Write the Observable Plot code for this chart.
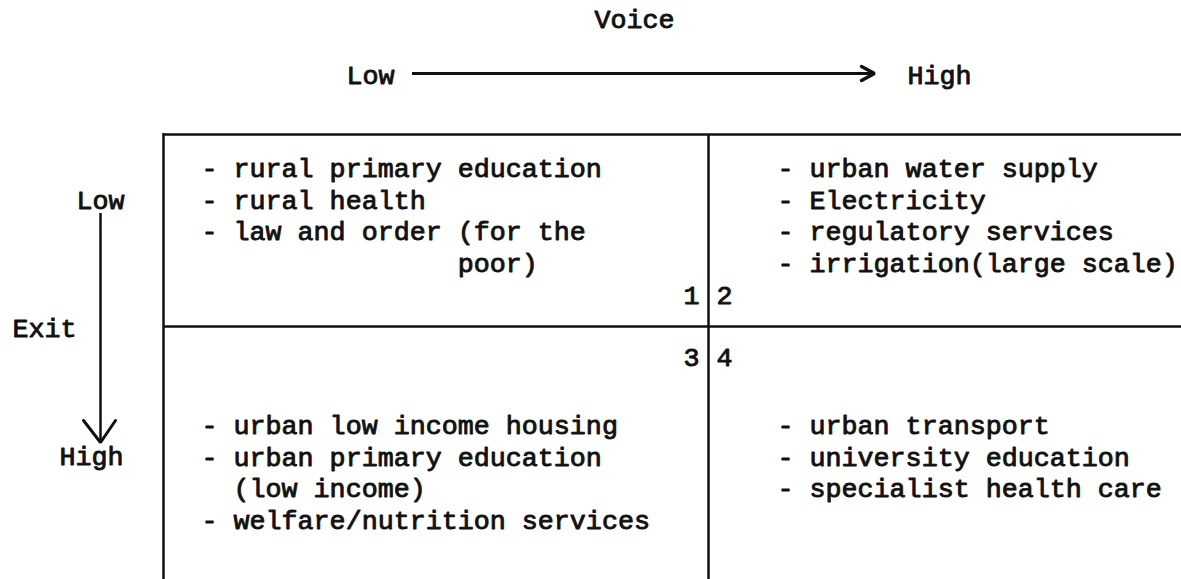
<!DOCTYPE html>
<html>
<head>
<meta charset="utf-8">
<script src="https://cdn.jsdelivr.net/npm/d3@7"></script>
<script src="https://cdn.jsdelivr.net/npm/@observablehq/plot@0.6"></script>
<style>
  html, body { margin: 0; padding: 0; background: #ffffff; }
  #chart svg text { white-space: pre; }
</style>
</head>
<body>
<div id="chart"></div>
<script>
// ---- Data (text content of the diagram) ----
const axisTitles = ["Voice", "Exit"];
const voiceLevels = ["Low", "High"];
const exitLevels = ["Low", "High"];
const quadrantNumbers = ["1", "2", "3", "4"];
const q1Items = ["- rural primary education", "- rural health", "- law and order (for the", "                poor)"];
const q2Items = ["- urban water supply", "- Electricity", "- regulatory services", "- irrigation(large scale)"];
const q3Items = ["- urban low income housing", "- urban primary education", "  (low income)", "- welfare/nutrition services"];
const q4Items = ["- urban transport", "- university education", "- specialist health care"];

// ---- Layout (page geometry: typewriter grid) ----
const W = 1181, H = 579;
const boxLeft = 163, boxDiv = 708, boxTop = 134, boxMid = 326;
const lineStep = 31.5;
const colText = [201, 777];
const rowText = [168, 425];
const font = "Liberation Mono";
const fs = 26.7;

const quadrants = [
  {items: q1Items, col: 0, row: 0},
  {items: q2Items, col: 1, row: 0},
  {items: q3Items, col: 0, row: 1},
  {items: q4Items, col: 1, row: 1}
];
const itemRows = quadrants.flatMap(q => q.items.map((t, i) => ({
  text: t, x: colText[q.col], y: rowText[q.row] + i * lineStep
})));

const numbers = [
  {text: quadrantNumbers[0], x: boxDiv - 9, y: 295, anchor: "end"},
  {text: quadrantNumbers[1], x: boxDiv + 8, y: 295, anchor: "start"},
  {text: quadrantNumbers[2], x: boxDiv - 9, y: 357, anchor: "end"},
  {text: quadrantNumbers[3], x: boxDiv + 8, y: 357, anchor: "start"}
];

// arrows
const hArrow = {x1: 412, x2: 874, y: 73};
const vArrow = {x: 100, y1: 213, y2: 442};
const hHead = [
  {x: hArrow.x2 - 13, y: hArrow.y - 7},
  {x: hArrow.x2, y: hArrow.y},
  {x: hArrow.x2 - 13, y: hArrow.y + 7}
];
const vHead = [
  {x: vArrow.x - 17, y: vArrow.y2 - 22},
  {x: vArrow.x, y: vArrow.y2},
  {x: vArrow.x + 15, y: vArrow.y2 - 22}
];

const labels = [
  {text: axisTitles[0], x: 634, y: 19, anchor: "middle"},
  {text: voiceLevels[0], x: 346, y: 75, anchor: "start"},
  {text: voiceLevels[1], x: 907, y: 75, anchor: "start"},
  {text: exitLevels[0], x: 100, y: 200, anchor: "middle"},
  {text: exitLevels[1], x: 91, y: 456, anchor: "middle"},
  {text: axisTitles[1], x: 12, y: 328, anchor: "start"}
];

const ink = "#111";
const textOpts = (anchor) => ({
  x: "x", y: "y", text: "text",
  textAnchor: anchor, lineAnchor: "middle",
  fontFamily: font, fontSize: fs, fill: ink,
  stroke: ink, strokeWidth: 0.9
});

const chart = Plot.plot({
  width: W, height: H, margin: 0,
  style: {background: "#ffffff", overflow: "hidden"},
  x: {domain: [0, W], range: [0, W], axis: null},
  y: {domain: [0, H], range: [0, H], axis: null},
  marks: [
    // box
    Plot.ruleY([boxTop], {x1: boxLeft, x2: W, stroke: ink, strokeWidth: 2.5}),
    Plot.ruleY([boxMid], {x1: boxLeft, x2: W, stroke: ink, strokeWidth: 2.5}),
    Plot.ruleX([boxLeft], {y1: boxTop - 1, y2: H, stroke: ink, strokeWidth: 2.5}),
    Plot.ruleX([boxDiv], {y1: boxTop, y2: H, stroke: ink, strokeWidth: 2.5}),
    // arrows
    Plot.ruleY([hArrow.y], {x1: hArrow.x1, x2: hArrow.x2 - 2, stroke: ink, strokeWidth: 3}),
    Plot.line(hHead, {x: "x", y: "y", stroke: ink, strokeWidth: 3.5, strokeLinejoin: "miter"}),
    Plot.ruleX([vArrow.x], {y1: vArrow.y1, y2: vArrow.y2 - 2, stroke: ink, strokeWidth: 2.5}),
    Plot.line(vHead, {x: "x", y: "y", stroke: ink, strokeWidth: 3, strokeLinejoin: "miter"}),
    // labels
    Plot.text(labels.filter(d => d.anchor === "middle"), textOpts("middle")),
    Plot.text(labels.filter(d => d.anchor === "start"), textOpts("start")),
    Plot.text(itemRows, textOpts("start")),
    Plot.text(numbers.filter(d => d.anchor === "end"), textOpts("end")),
    Plot.text(numbers.filter(d => d.anchor === "start"), textOpts("start"))
  ]
});
document.getElementById("chart").appendChild(chart);
</script>
</body>
</html>
